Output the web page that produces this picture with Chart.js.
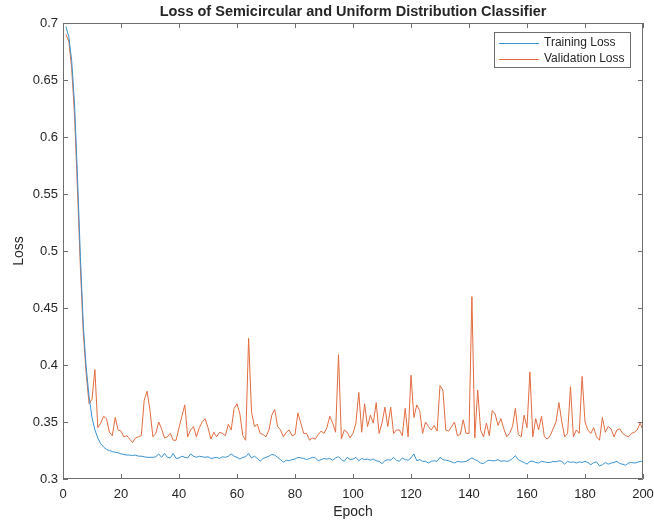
<!DOCTYPE html>
<html>
<head>
<meta charset="utf-8">
<script src="https://cdn.jsdelivr.net/npm/chart.js@4/dist/chart.umd.min.js"></script>
<style>
    html, body { margin: 0; padding: 0; background: #fff; }
    #wrap { width: 654px; height: 523px; }
</style>
</head>
<body>
<div id="wrap"><canvas id="lossChart" width="654" height="523"></canvas></div>
<script>
// values read per epoch (1..200)
const trainingLoss = [
    0.697, 0.688, 0.667, 0.628, 0.565, 0.495, 0.435, 0.398, 0.372, 0.354,
    0.343, 0.336, 0.331, 0.328, 0.326, 0.325, 0.324, 0.3235, 0.323, 0.322,
    0.3215, 0.321, 0.321, 0.3205, 0.321, 0.320, 0.320, 0.3195, 0.319, 0.319,
    0.319, 0.3195, 0.322, 0.319, 0.3225, 0.319, 0.3185, 0.3225, 0.318, 0.3185,
    0.320, 0.319, 0.3185, 0.322, 0.320, 0.319, 0.320, 0.3195, 0.319, 0.3195,
    0.318, 0.3185, 0.319, 0.318, 0.3195, 0.319, 0.320, 0.322, 0.320, 0.319,
    0.3175, 0.319, 0.3195, 0.3225, 0.3185, 0.320, 0.318, 0.3155, 0.318, 0.319,
    0.320, 0.3215, 0.321, 0.319, 0.317, 0.3147, 0.3165, 0.316, 0.317, 0.3175,
    0.319, 0.3185, 0.318, 0.317, 0.318, 0.319, 0.3185, 0.316, 0.317, 0.318,
    0.3175, 0.318, 0.3165, 0.3185, 0.3195, 0.317, 0.3155, 0.319, 0.317, 0.3175,
    0.319, 0.316, 0.318, 0.317, 0.3175, 0.3165, 0.3175, 0.316, 0.3155, 0.3135,
    0.316, 0.317, 0.3165, 0.319, 0.3165, 0.3155, 0.3185, 0.317, 0.3165, 0.3185,
    0.322, 0.316, 0.317, 0.3155, 0.3155, 0.314, 0.3155, 0.316, 0.3155, 0.319,
    0.317, 0.3165, 0.316, 0.315, 0.314, 0.3155, 0.315, 0.315, 0.3155, 0.317,
    0.3185, 0.317, 0.316, 0.314, 0.3135, 0.3155, 0.3165, 0.316, 0.316, 0.317,
    0.3155, 0.316, 0.3155, 0.316, 0.318, 0.3205, 0.317, 0.3155, 0.3145, 0.313,
    0.3155, 0.3155, 0.3145, 0.314, 0.3155, 0.315, 0.3145, 0.3145, 0.3155, 0.315,
    0.316, 0.3155, 0.313, 0.3155, 0.3145, 0.315, 0.314, 0.315, 0.3145, 0.3155,
    0.3145, 0.3125, 0.3145, 0.315, 0.3115, 0.3125, 0.3145, 0.313, 0.314, 0.3145,
    0.3155, 0.3135, 0.313, 0.312, 0.314, 0.3145, 0.314, 0.3145, 0.3155, 0.315
];

const validationLoss = [
    0.690, 0.684, 0.660, 0.618, 0.553, 0.485, 0.428, 0.392, 0.366, 0.370,
    0.396, 0.345, 0.349, 0.355, 0.353, 0.341, 0.338, 0.354, 0.343, 0.342,
    0.337, 0.338, 0.335, 0.332, 0.336, 0.337, 0.338, 0.369, 0.377, 0.360,
    0.337, 0.340, 0.350, 0.344, 0.336, 0.337, 0.340, 0.334, 0.334, 0.345,
    0.355, 0.365, 0.337, 0.343, 0.346, 0.337, 0.345, 0.350, 0.353, 0.345,
    0.335, 0.341, 0.337, 0.341, 0.340, 0.338, 0.348, 0.343, 0.362, 0.366,
    0.357, 0.338, 0.334, 0.4235, 0.359, 0.346, 0.348, 0.340, 0.339, 0.337,
    0.343, 0.356, 0.361, 0.346, 0.343, 0.337, 0.341, 0.343, 0.338, 0.339,
    0.358, 0.349, 0.340, 0.340, 0.334, 0.336, 0.335, 0.339, 0.342, 0.340,
    0.345, 0.355, 0.349, 0.341, 0.409, 0.335, 0.343, 0.341, 0.336, 0.340,
    0.349, 0.376, 0.341, 0.366, 0.346, 0.356, 0.349, 0.367, 0.340, 0.349,
    0.363, 0.346, 0.363, 0.340, 0.343, 0.343, 0.338, 0.362, 0.337, 0.391,
    0.354, 0.365, 0.360, 0.340, 0.350, 0.346, 0.343, 0.347, 0.342, 0.382,
    0.378, 0.343, 0.342, 0.346, 0.350, 0.338, 0.339, 0.352, 0.340, 0.340,
    0.460, 0.336, 0.378, 0.343, 0.337, 0.349, 0.338, 0.360, 0.357, 0.347,
    0.353, 0.344, 0.337, 0.340, 0.346, 0.362, 0.339, 0.337, 0.356, 0.345,
    0.394, 0.337, 0.353, 0.343, 0.355, 0.337, 0.335, 0.338, 0.344, 0.350,
    0.367, 0.350, 0.337, 0.340, 0.381, 0.337, 0.343, 0.340, 0.390, 0.350,
    0.343, 0.340, 0.345, 0.337, 0.334, 0.354, 0.341, 0.346, 0.344, 0.337,
    0.343, 0.344, 0.340, 0.338, 0.337, 0.340, 0.341, 0.343, 0.349, 0.343
];

const xTicks = [0, 20, 40, 60, 80, 100, 120, 140, 160, 180, 200];
const yTicks = [0.3, 0.35, 0.4, 0.45, 0.5, 0.55, 0.6, 0.65, 0.7];

const seriesNames = ["Training Loss", "Validation Loss"];
const seriesColors = ["rgb(58, 146, 208)", "rgb(226, 108, 64)"];

const axisColor = "#6e6e6e";
const textColor = "#262626";
const fontFamily = "'Liberation Sans', Arial, Helvetica, sans-serif";

function toPoints(values) {
    return values.map((v, i) => ({ x: i + 1, y: v }));
}

// box around the axes with inward ticks, like MATLAB
const matlabFrame = {
    id: "matlabFrame",
    afterDatasetsDraw(chart) {
        const { ctx, chartArea: a, scales } = chart;
        const len = 5;
        ctx.save();
        ctx.strokeStyle = axisColor;
        ctx.lineWidth = 1;
        ctx.beginPath();
        ctx.rect(a.left + 0.5, a.top + 0.5, a.right - a.left - 1, a.bottom - a.top - 1);
        xTicks.forEach(t => {
            const px = Math.round(scales.x.getPixelForValue(t)) + 0.5;
            ctx.moveTo(px, a.bottom);
            ctx.lineTo(px, a.bottom - len);
            ctx.moveTo(px, a.top);
            ctx.lineTo(px, a.top + len);
        });
        yTicks.forEach(t => {
            const py = Math.round(scales.y.getPixelForValue(t)) + 0.5;
            ctx.moveTo(a.left, py);
            ctx.lineTo(a.left + len, py);
            ctx.moveTo(a.right, py);
            ctx.lineTo(a.right - len, py);
        });
        ctx.stroke();
        ctx.restore();
    }
};

// legend box in the top right corner of the axes
const boxLegend = {
    id: "boxLegend",
    afterDraw(chart) {
        const { ctx, chartArea: a } = chart;
        const w = 137, h = 36;
        const x0 = a.right - 12 - w;
        const y0 = a.top + 9;
        ctx.save();
        ctx.fillStyle = "#fff";
        ctx.fillRect(x0, y0, w, h);
        ctx.strokeStyle = axisColor;
        ctx.lineWidth = 1;
        ctx.strokeRect(x0 + 0.5, y0 + 0.5, w - 1, h - 1);
        ctx.font = "12px " + fontFamily;
        ctx.textBaseline = "middle";
        seriesNames.forEach((name, i) => {
            const y = Math.round(y0 + 11 + i * 16);
            ctx.fillStyle = seriesColors[i];
            ctx.fillRect(x0 + 5, y, 40, 1);
            ctx.fillStyle = textColor;
            ctx.fillText(name, x0 + 50, y);
        });
        ctx.restore();
    }
};

new Chart(document.getElementById("lossChart"), {
    type: "line",
    data: {
        datasets: [
            {
                label: seriesNames[0],
                data: toPoints(trainingLoss),
                borderColor: seriesColors[0],
                borderWidth: 1,
                pointRadius: 0,
                tension: 0
            },
            {
                label: seriesNames[1],
                data: toPoints(validationLoss),
                borderColor: seriesColors[1],
                borderWidth: 1,
                pointRadius: 0,
                tension: 0
            }
        ]
    },
    options: {
        responsive: false,
        animation: false,
        devicePixelRatio: 1,
        layout: { padding: { top: 0, right: 11, bottom: 0, left: 0 } },
        plugins: {
            legend: { display: false },
            tooltip: { enabled: false },
            title: {
                display: true,
                text: "Loss of Semicircular and Uniform Distribution Classifier",
                fullSize: false,
                color: textColor,
                font: { family: fontFamily, size: 14.5, weight: "bold" },
                padding: { top: 3, bottom: 2.6 }
            }
        },
        scales: {
            x: {
                type: "linear",
                min: 0,
                max: 200,
                afterBuildTicks: scale => { scale.ticks = xTicks.map(v => ({ value: v })); },
                afterFit: scale => {
                    scale.height = 44;
                    scale.paddingLeft = 0;
                    scale.paddingRight = 0;
                },
                grid: { display: false, drawTicks: false },
                border: { display: false },
                ticks: {
                    color: textColor,
                    padding: 8,
                    maxRotation: 0,
                    font: { family: fontFamily, size: 13 }
                },
                title: {
                    display: true,
                    text: "Epoch",
                    color: textColor,
                    font: { family: fontFamily, size: 14 },
                    padding: 2
                }
            },
            y: {
                type: "linear",
                min: 0.3,
                max: 0.7,
                afterBuildTicks: scale => { scale.ticks = yTicks.map(v => ({ value: v })); },
                afterFit: scale => { scale.width = 63; },
                grid: { display: false, drawTicks: false },
                border: { display: false },
                ticks: {
                    color: textColor,
                    padding: 5,
                    font: { family: fontFamily, size: 13 },
                    callback: v => String(Math.round(v * 100) / 100)
                },
                title: {
                    display: true,
                    text: "Loss",
                    color: textColor,
                    font: { family: fontFamily, size: 14 },
                    padding: 11
                }
            }
        }
    },
    plugins: [matlabFrame, boxLegend]
});
</script>
</body>
</html>
